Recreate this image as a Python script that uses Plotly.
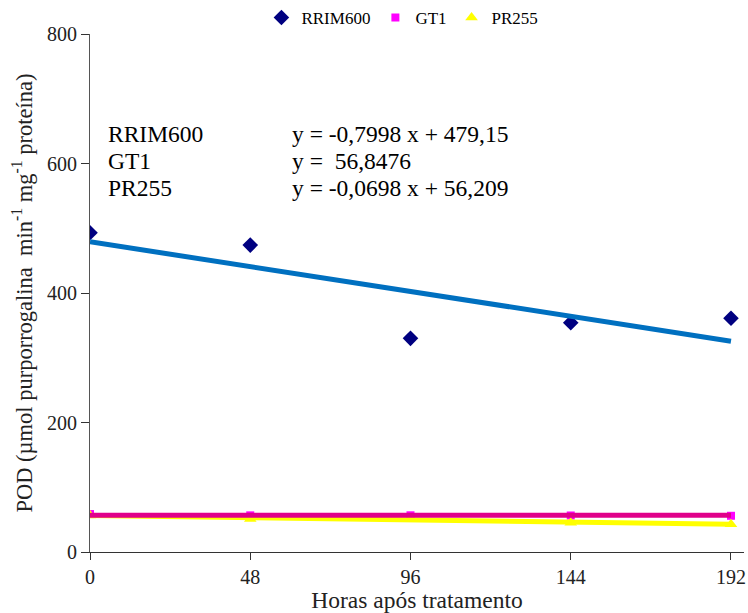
import plotly.graph_objects as go

# Sampling times (hours after treatment)
horas = [0, 48, 96, 144, 192]

# POD activity per clone
rrim600 = [493, 474, 330, 354, 361]
gt1 = [58.6, 56.6, 56.7, 56.4, 55.94]
pr255 = [56.5, 51, 52, 45, 43]

# Fitted regressions (slope, intercept)
fit_rrim600 = (-0.7998, 479.15)
fit_gt1 = (0.0, 56.8476)
fit_pr255 = (-0.0698, 56.209)

eq_labels = ["RRIM600", "GT1", "PR255"]
eq_texts = ["y = -0,7998 x + 479,15", "y =  56,8476", "y = -0,0698 x + 56,209"]

FONT = "Liberation Serif"

fig = go.Figure()

# observed values
fig.add_trace(go.Scatter(x=horas, y=rrim600, mode="markers", name="RRIM600",
                         marker=dict(symbol="diamond", size=12, color="#000080")))
fig.add_trace(go.Scatter(x=horas, y=gt1, mode="markers", name="GT1",
                         marker=dict(symbol="square", size=8, color="#FF00FF")))
fig.add_trace(go.Scatter(x=horas, y=pr255, mode="markers", name="PR255",
                         marker=dict(symbol="triangle-up", size=11, color="#FFFF00")))

# trend lines
def line(fit):
    a, b = fit
    xs = [horas[0], horas[-1]]
    return xs, [a * x + b for x in xs]

for fit, col in [(fit_rrim600, "#0070C0"), (fit_pr255, "#FFFF00"), (fit_gt1, "#E0008A")]:
    xs, ys = line(fit)
    fig.add_trace(go.Scatter(x=xs, y=ys, mode="lines", showlegend=False,
                             line=dict(color=col, width=5), hoverinfo="skip"))

# regression equations
for i, (lab, txt) in enumerate(zip(eq_labels, eq_texts)):
    yp = 134 + 27 * i
    fig.add_annotation(xref="paper", yref="paper", x=(106 - 90) / 654, y=1 - (yp - 34) / 518,
                       text=lab, showarrow=False, xanchor="left", yanchor="middle",
                       font=dict(family=FONT, size=23.5, color="#000"))
    fig.add_annotation(xref="paper", yref="paper", x=(290 - 90) / 654, y=1 - (yp - 34) / 518,
                       text=txt, showarrow=False, xanchor="left", yanchor="middle",
                       font=dict(family=FONT, size=23.5, color="#000"))

fig.update_layout(
    width=748, height=613,
    margin=dict(l=90, r=4, t=34, b=61, autoexpand=False),
    paper_bgcolor="white", plot_bgcolor="white",
    font=dict(family=FONT, size=19, color="#222"),
    showlegend=True,
    legend=dict(orientation="h", x=0.538, xref="container", xanchor="center",
                y=1.0, yref="container", yanchor="top",
                font=dict(family=FONT, size=17, color="#000"),
                itemwidth=30, tracegroupgap=0, bgcolor="rgba(0,0,0,0)"),
    xaxis=dict(range=[0, 195.9], tickvals=horas, ticks="outside", ticklen=7,
               tickcolor="#333", showline=True, linecolor="#333", linewidth=1,
               showgrid=False, zeroline=False,
               tickfont=dict(family=FONT, size=20, color="#222"),
               title=dict(text="Horas após tratamento", standoff=0,
                          font=dict(family=FONT, size=23.5, color="#222"))),
    yaxis=dict(range=[0, 800], tickvals=[0, 200, 400, 600, 800], ticks="outside", ticklen=8,
               tickcolor="#333", showline=True, linecolor="#555", linewidth=1,
               showgrid=False, zeroline=False,
               tickfont=dict(family=FONT, size=20, color="#222"),
               title=dict(text="POD (µmol purporrogalina  min<sup>-1</sup> mg<sup>-1</sup> proteína)",
                          standoff=8, font=dict(family=FONT, size=22.5, color="#222"))),
)

fig.write_html("out.html")
